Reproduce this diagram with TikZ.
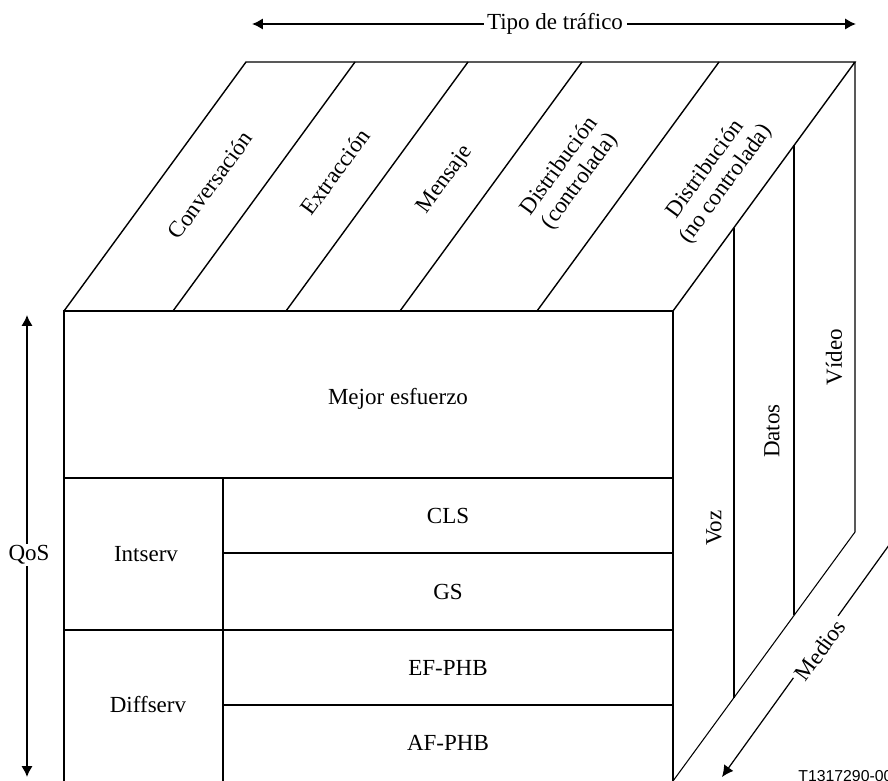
\documentclass[tikz,border=0pt]{standalone}
\usepackage{fontspec}
\setmainfont{Liberation Serif}
\setsansfont{Liberation Sans}
\usetikzlibrary{arrows.meta}

\begin{document}
\begin{tikzpicture}[x=0.02cm,y=-0.02cm]
\tikzstyle{every node}+=[inner sep=0pt,font=\fontsize{13.1}{14.5}\selectfont]
\tikzstyle{outline}=[line width=0.6pt]
\tikzstyle{topline}=[line width=0.8pt]
\tikzstyle{divider}=[line width=1.1pt]
\tikzstyle{axisarrow}=[line width=1.1pt,{Latex[length=6.2pt,width=6.5pt]}-{Latex[length=6.2pt,width=6.5pt]}]
\tikzstyle{mediaarrow}=[line width=0.7pt,-{Latex[length=6.5pt,width=6.5pt]}]
\tikzstyle{toplabel}=[rotate=53.8,align=center]
\tikzstyle{sidelabel}=[rotate=90]
\tikzstyle{gap}=[fill=white,inner xsep=2pt,inner ysep=1pt]
\useasboundingbox (0,0) rectangle (888,780);
\coordinate (ftl) at (64,311);
\coordinate (ftr) at (673,311);
\coordinate (fbl) at (64,781);
\coordinate (fbr) at (673,781);
\coordinate (btl) at (246,62);
\coordinate (btr) at (855,62);
\coordinate (bbr) at (855,532);
\draw [outline] (fbl) -- (ftl) -- (ftr) -- (fbr);
\draw [outline] (btr) -- (bbr) -- (fbr);
\draw [topline] (ftl) -- (btl) -- (btr) -- (ftr);
\foreach \x in {173,286,400,537}
  \draw [topline] (\x,311) -- ++(182,-249);
\foreach \t in {0.3333,0.6667}
  \draw [divider] (673+182*\t,311-249*\t) -- (673+182*\t,781-249*\t);
\draw [divider] (64,478) -- (673,478);
\draw [divider] (64,630) -- (673,630);
\draw [divider] (223,478) -- (223,781);
\draw [divider] (223,553) -- (673,553);
\draw [divider] (223,705) -- (673,705);
\node [toplabel] (conv) at (210,185) {Conversación};
\node [toplabel] (extr) at (335,172) {Extracción};
\node [toplabel] (mens) at (445,180) {Mensaje};
\node [toplabel] (dctl) at (570,174) {Distribución\\(controlada)};
\node [toplabel] (dnct) at (716,177) {Distribución\\(no controlada)};
\node (mejor) at (398,399) {Mejor esfuerzo};
\node (intserv) at (146,554) {Intserv};
\node (diffserv) at (148,705) {Diffserv};
\node (cls) at (448,516) {CLS};
\node (gs) at (448,592) {GS};
\node (ef) at (448,668) {EF-PHB};
\node (af) at (448,743) {AF-PHB};
\node [sidelabel] (voz) at (714,528) {Voz};
\node [sidelabel] (datos) at (772,431) {Datos};
\node [sidelabel] (video) at (834,357) {Vídeo};
\coordinate (tl) at (252,24);
\coordinate (tr) at (856,24);
\draw [axisarrow] (tl) -- (tr);
\node [gap] (tipo) at (555,24) {Tipo de tráfico};
\coordinate (qt) at (27,315);
\coordinate (qb) at (27,777);
\draw [axisarrow] (qt) -- (qb);
\node [gap] (qos) at (29,555) {QoS};
\coordinate (mt) at (897,534);
\coordinate (mb) at (722,777);
\draw [mediaarrow] (mt) -- (mb);
\node [gap,rotate=53.8] (medios) at (820,650) {Medios};
\node [anchor=base west,font=\sffamily\fontsize{9}{10}\selectfont] (ref) at (798,781.5) {T1317290-00};
\end{tikzpicture}
\end{document}
